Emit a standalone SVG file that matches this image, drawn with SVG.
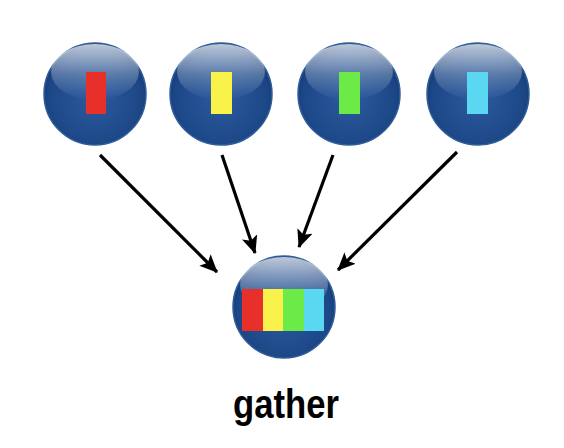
<svg xmlns="http://www.w3.org/2000/svg" width="564" height="448" viewBox="0 0 564 448">
<defs>
<radialGradient id="body" cx="0.5" cy="0.55" r="0.55">
<stop offset="0" stop-color="#2b5a9e"/>
<stop offset="0.8" stop-color="#1d4888"/>
<stop offset="1" stop-color="#163a74"/>
</radialGradient>
<linearGradient id="gloss" x1="0" y1="0" x2="0" y2="1">
<stop offset="0" stop-color="#ffffff" stop-opacity="0.72"/>
<stop offset="0.55" stop-color="#ffffff" stop-opacity="0.25"/>
<stop offset="1" stop-color="#ffffff" stop-opacity="0"/>
</linearGradient>
<marker id="arr" markerUnits="userSpaceOnUse" markerWidth="20" markerHeight="16" refX="17" refY="8" orient="auto">
<path d="M0,0 L18,8 L0,16 L4,8 Z" fill="#000"/>
</marker>
</defs>
<style>
.ball{fill:url(#body);stroke:#2f5c9a;stroke-width:1.5}
.gl{fill:url(#gloss)}
.conn{stroke:#000;stroke-width:3.2;fill:none;marker-end:url(#arr)}
.lbl{font-family:"Liberation Sans",Arial,sans-serif;font-weight:bold;font-size:40px;fill:#000}
</style>
<rect width="564" height="448" fill="#fff"/>
<g id="connectors">
<line class="conn" x1="100" y1="155" x2="217" y2="272"/>
<line class="conn" x1="222" y1="155" x2="255" y2="253"/>
<line class="conn" x1="333" y1="155" x2="299" y2="247"/>
<line class="conn" x1="457" y1="152" x2="338" y2="270"/>
</g>
<g id="node1">
<circle class="ball" cx="95" cy="94" r="51"/>
<ellipse class="gl" cx="95" cy="72" rx="44" ry="28"/>
<rect x="86" y="72" width="20" height="42" fill="#e8302a"/>
</g>
<g id="node2">
<circle class="ball" cx="221" cy="94" r="51"/>
<ellipse class="gl" cx="221" cy="72" rx="44" ry="28"/>
<rect x="211" y="72" width="21" height="42" fill="#f9f24a"/>
</g>
<g id="node3">
<circle class="ball" cx="349" cy="94" r="51"/>
<ellipse class="gl" cx="349" cy="72" rx="44" ry="28"/>
<rect x="339" y="72" width="21" height="42" fill="#6bea48"/>
</g>
<g id="node4">
<circle class="ball" cx="478" cy="94" r="51"/>
<ellipse class="gl" cx="478" cy="72" rx="44" ry="28"/>
<rect x="467" y="72" width="21" height="42" fill="#5ad8f2"/>
</g>
<g id="gather">
<circle class="ball" cx="284" cy="307" r="51"/>
<ellipse class="gl" cx="284" cy="285" rx="44" ry="28"/>
<rect x="242" y="289" width="21" height="42" fill="#e8302a"/>
<rect x="263" y="289" width="20" height="42" fill="#f9f24a"/>
<rect x="283" y="289" width="21" height="42" fill="#6bea48"/>
<rect x="304" y="289" width="20" height="42" fill="#5ad8f2"/>
<text class="lbl" x="286" y="418" text-anchor="middle" textLength="106" lengthAdjust="spacingAndGlyphs">gather</text>
</g>
</svg>
